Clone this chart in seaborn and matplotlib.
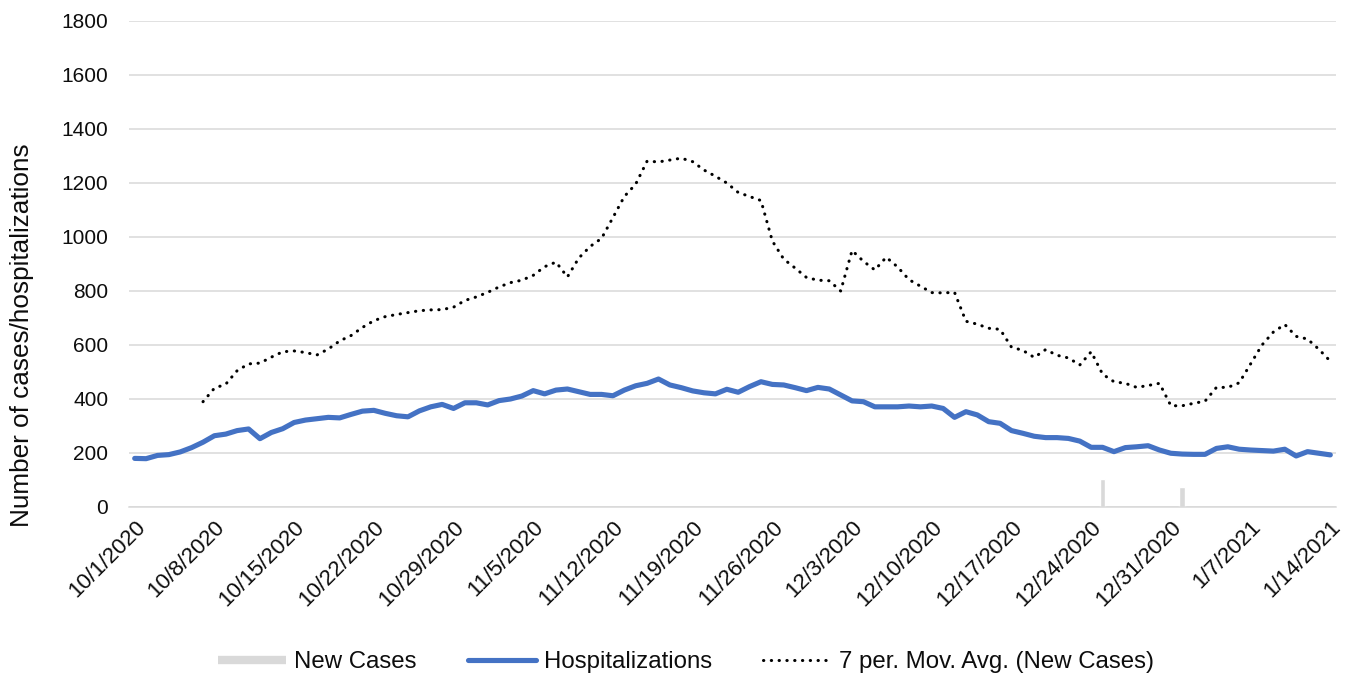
import numpy as np
import pandas as pd
import matplotlib
matplotlib.use("Agg")
import matplotlib.pyplot as plt
import seaborn as sns
from matplotlib.lines import Line2D

# ---------------- data ----------------
dates = pd.date_range("2020-10-01", "2021-01-14", freq="D")

hospitalizations = [
    180, 179, 191, 194, 204, 220, 240, 264, 270, 283,
    289, 253, 276, 290, 313, 322, 327, 332, 330, 343,
    355, 358, 347, 338, 334, 356, 371, 380, 365, 386,
    386, 378, 394, 400, 411, 431, 419, 433, 437, 427,
    417, 417, 412, 433, 449, 458, 474, 452, 442, 430,
    423, 419, 436, 425, 446, 464, 454, 452, 442, 431,
    443, 437, 415, 393, 390, 371, 371, 371, 374, 371,
    374, 365, 332, 353, 341, 316, 310, 283, 273, 262,
    257, 257, 254, 244, 221, 221, 205, 220, 223, 227,
    211, 199, 196, 195, 195, 217, 223, 214, 211, 209,
    207, 214, 189, 205, 199, 193,
]

moving_avg = [
    np.nan, np.nan, np.nan, np.nan, np.nan, np.nan,
    390, 440, 455, 505, 530, 533, 555, 575, 578, 572,
    563, 585, 615, 635, 665, 690, 705, 713, 720, 727,
    730, 731, 740, 765, 778, 795, 815, 831, 840, 858,
    890, 907, 852, 922, 965, 995, 1072, 1150, 1196, 1281,
    1278, 1285, 1292, 1279, 1248, 1225, 1200, 1165, 1150, 1135,
    985, 918, 885, 850, 840, 838, 800, 950, 910, 878,
    925, 889, 842, 818, 794, 793, 795, 688, 677, 662,
    658, 592, 580, 554, 583, 562, 552, 526, 575, 492,
    464, 458, 443, 450, 458, 375, 375, 384, 392, 443,
    443, 460, 530, 600, 648, 676, 632, 622, 584, 540,
]

# only the holiday bars are visible in the source chart
new_cases = [np.nan] * len(dates)
new_cases[85] = 102   # 12/25/2020
new_cases[92] = 75    # 1/1/2021

tick_labels = [
    "10/1/2020", "10/8/2020", "10/15/2020", "10/22/2020", "10/29/2020",
    "11/5/2020", "11/12/2020", "11/19/2020", "11/26/2020", "12/3/2020",
    "12/10/2020", "12/17/2020", "12/24/2020", "12/31/2020", "1/7/2021",
    "1/14/2021",
]

y_ticks = [0, 200, 400, 600, 800, 1000, 1200, 1400, 1600, 1800]

df = pd.DataFrame({
    "day": np.arange(len(dates)),
    "date": dates,
    "New Cases": new_cases,
    "Hospitalizations": hospitalizations,
    "MA": moving_avg,
})

# ---------------- style ----------------
sns.set_theme(style="white")
plt.rcParams["font.family"] = ["Liberation Sans", "DejaVu Sans"]

BLUE = "#4472C4"
GRAY = "#D9D9D9"
TEXT = "#0d0d0d"

fig = plt.figure(figsize=(13.49, 6.76), dpi=100)
ax = fig.add_axes([129 / 1349, 1 - 507 / 676, (1336 - 129) / 1349, (507 - 21) / 676])

# bars
ax.bar(df["day"], df["New Cases"], width=0.5, color=GRAY, zorder=2)

# lines
sns.lineplot(data=df, x="day", y="Hospitalizations", ax=ax, color=BLUE,
             linewidth=3.7, zorder=3, solid_capstyle="round", solid_joinstyle="round")
sns.lineplot(data=df, x="day", y="MA", ax=ax, color="black", linewidth=2.2,
             zorder=4, dashes=False)
ma_line = ax.get_lines()[-1]
ma_line.set_linestyle((0, (0.1, 2.45)))
ma_line.set_dash_capstyle("round")

ax.set_xlim(-0.5, len(dates) - 0.5)
ax.set_ylim(0, 1800)
ax.set_yticks(y_ticks)
ax.set_yticklabels([str(v) for v in y_ticks])
ax.set_xticks(np.arange(0, len(dates), 7))
ax.set_xticklabels(tick_labels, rotation=45, ha="right", va="top",
                   rotation_mode="anchor")

ax.grid(axis="y", color=GRAY, linewidth=1.1, zorder=0)
ax.set_axisbelow(True)
for s in ["top", "right", "left"]:
    ax.spines[s].set_visible(False)
ax.spines["bottom"].set_color(GRAY)
ax.spines["bottom"].set_linewidth(1.1)
ax.tick_params(axis="y", length=0, pad=15, labelsize=15, labelcolor=TEXT)
ax.tick_params(axis="x", length=0, pad=7, labelsize=16, labelcolor=TEXT)
ax.set_xlabel("")
ax.set_ylabel("")

fig.text(22 / 1349, 1 - 335 / 676, "Number of cases/hospitalizations",
         rotation=90, ha="center", va="center", fontsize=18.8, color=TEXT)

handles = [
    Line2D([0], [0], color=GRAY, linewidth=6, solid_capstyle="butt"),
    Line2D([0], [0], color=BLUE, linewidth=3.7, solid_capstyle="round"),
    Line2D([0], [0], color="black", linewidth=2.2,
           linestyle=(0, (0.1, 2.45)), dash_capstyle="round"),
]
fig.legend(handles, ["New Cases", "Hospitalizations", "7 per. Mov. Avg. (New Cases)"],
           loc="center", bbox_to_anchor=(686 / 1349, 1 - 662 / 676), ncol=3,
           frameon=False, fontsize=17.3, handlelength=2.85, handletextpad=0.3,
           columnspacing=2.15, labelcolor=TEXT)

fig.savefig("out.png", dpi=100, facecolor="white")
